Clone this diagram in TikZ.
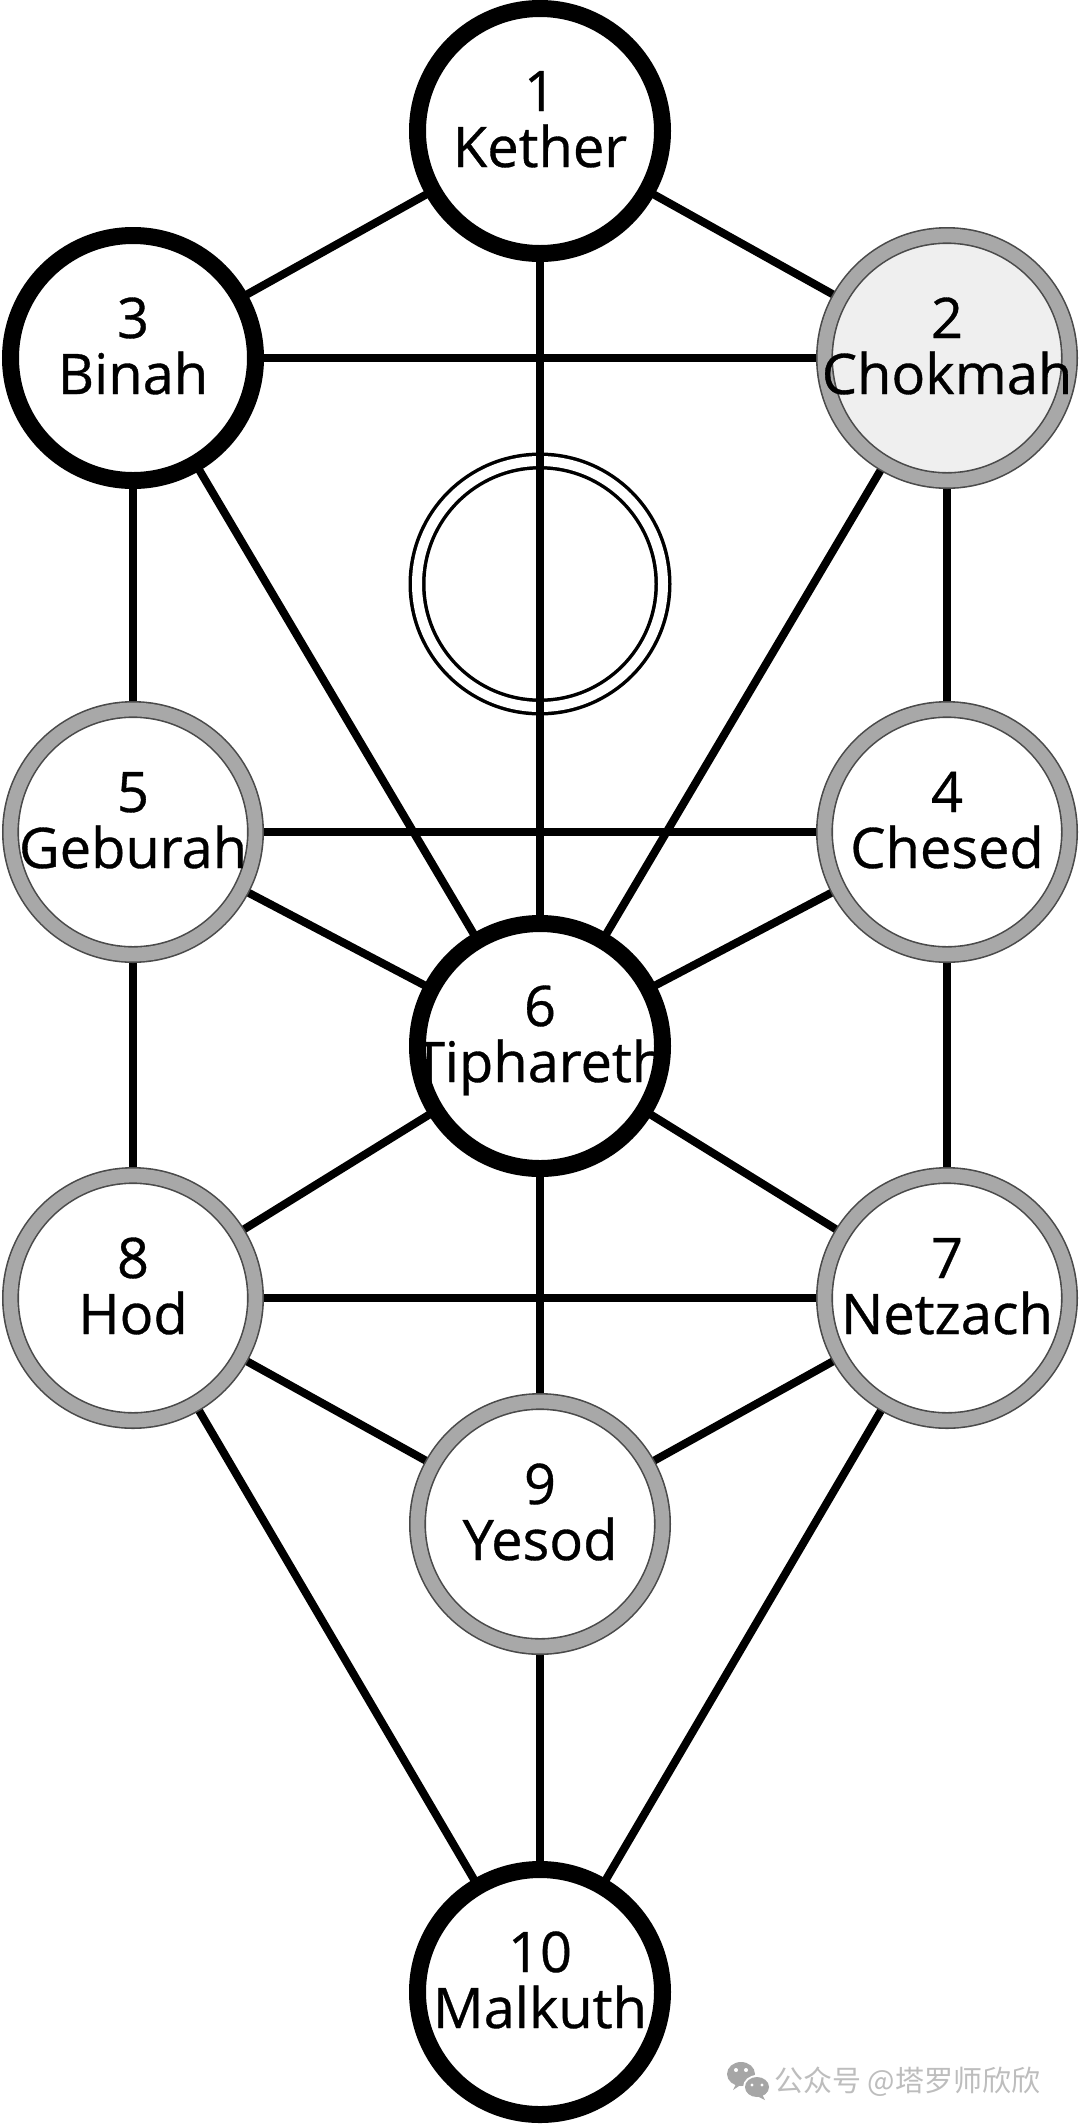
\documentclass[tikz,border=0pt]{standalone}
\usepackage{fontspec}
\setmainfont{Open Sans}
\newfontfamily\labelfont{Open Sans}[FakeBold=0.6]
\newfontfamily\cjk{Noto Sans CJK SC}
\usetikzlibrary{backgrounds}
\definecolor{ringgray}{HTML}{A8A8A8}
\definecolor{ringedge}{HTML}{4A4A4A}
\definecolor{chokfill}{HTML}{EFEFEF}
\definecolor{wmgray}{HTML}{BDBDBD}
\definecolor{wmicon}{HTML}{A6A6A6}
\begin{document}
\begin{tikzpicture}[x=1pt,y=-1pt,
  seph/.style={circle, minimum size=245pt, inner sep=0pt, fill=white},
  blackseph/.style={seph, draw=black, line width=17pt},
  grayseph/.style={seph, draw=ringedge, double=ringgray, line width=1.6pt, double distance=13.8pt},
  conn/.style={line width=8pt, draw=black},
  numtxt/.style={font=\labelfont\fontsize{56}{56}\selectfont, anchor=base, inner sep=0pt},
]
\useasboundingbox (0,0) rectangle (1080,2126);

% sephiroth
\node[blackseph] (k)  at (540,131)  {};
\node[blackseph] (bi) at (133,358)  {};
\node[grayseph, fill=chokfill] (ch) at (947,358) {};
\node[grayseph]  (ge) at (133,832)  {};
\node[grayseph]  (he) at (947,832)  {};
\node[blackseph] (ti) at (540,1046) {};
\node[grayseph]  (ho) at (133,1298) {};
\node[grayseph]  (ne) at (947,1298) {};
\node[grayseph]  (ye) at (540,1524) {};
\node[blackseph] (ma) at (540,1992) {};

\begin{pgfonlayer}{background}
  \fill[white] (0,0) rectangle (1080,2126);
  \node[circle, minimum size=246pt, inner sep=0pt, draw=black, line width=3.5pt,
        double=white, double distance=10pt] (da) at (540,584) {};
  \draw[conn] (k.center) -- (bi.center);
  \draw[conn] (k.center) -- (ch.center);
  \draw[conn] (k.center) -- (ti.center);
  \draw[conn] (bi.center) -- (ch.center);
  \draw[conn] (bi.center) -- (ge.center);
  \draw[conn] (bi.center) -- (ti.center);
  \draw[conn] (ch.center) -- (he.center);
  \draw[conn] (ch.center) -- (ti.center);
  \draw[conn] (ge.center) -- (he.center);
  \draw[conn] (ge.center) -- (ti.center);
  \draw[conn] (he.center) -- (ti.center);
  \draw[conn] (ge.center) -- (ho.center);
  \draw[conn] (he.center) -- (ne.center);
  \draw[conn] (ti.center) -- (ho.center);
  \draw[conn] (ti.center) -- (ne.center);
  \draw[conn] (ti.center) -- (ye.center);
  \draw[conn] (ho.center) -- (ne.center);
  \draw[conn] (ho.center) -- (ye.center);
  \draw[conn] (ne.center) -- (ye.center);
  \draw[conn] (ho.center) -- (ma.center);
  \draw[conn] (ne.center) -- (ma.center);
  \draw[conn] (ye.center) -- (ma.center);
\end{pgfonlayer}

% labels
\node[numtxt] (kn)  at ([yshift=20pt]k.center)  {1};
\node[numtxt] (kt)  at ([yshift=-36pt]k.center) {Kether};
\node[numtxt] (bin) at ([yshift=20pt]bi.center)  {3};
\node[numtxt] (bit) at ([yshift=-36pt]bi.center) {Binah};
\node[numtxt] (chn) at ([yshift=20pt]ch.center)  {2};
\node[numtxt] (cht) at ([yshift=-36pt]ch.center) {Chokmah};
\node[numtxt] (gen) at ([yshift=20pt]ge.center)  {5};
\node[numtxt] (get) at ([yshift=-36pt]ge.center) {Geburah};
\node[numtxt] (hen) at ([yshift=20pt]he.center)  {4};
\node[numtxt] (het) at ([yshift=-36pt]he.center) {Chesed};
\node[numtxt] (tin) at ([yshift=20pt]ti.center)  {6};
\node[numtxt] (tit) at ([yshift=-36pt]ti.center) {Tiphareth};
\node[numtxt] (hon) at ([yshift=20pt]ho.center)  {8};
\node[numtxt] (hot) at ([yshift=-36pt]ho.center) {Hod};
\node[numtxt] (nen) at ([yshift=20pt]ne.center)  {7};
\node[numtxt] (net) at ([yshift=-36pt]ne.center) {Netzach};
\node[numtxt] (yen) at ([yshift=20pt]ye.center)  {9};
\node[numtxt] (yet) at ([yshift=-36pt]ye.center) {Yesod};
\node[numtxt] (man) at ([yshift=20pt]ma.center)  {10};
\node[numtxt] (mat) at ([yshift=-36pt]ma.center) {Malkuth};

% watermark
\fill[wmicon] (741,2074) ellipse [x radius=14pt, y radius=12pt];
\fill[wmicon] (737,2082) -- (733,2090) -- (742,2084) -- cycle;
\fill[white] (757,2087) ellipse [x radius=14pt, y radius=12pt];
\fill[wmicon] (757,2087) ellipse [x radius=12pt, y radius=10pt];
\fill[wmicon] (762,2094) -- (765,2100) -- (757,2096) -- cycle;
\fill[white] (736,2070) circle (2pt) (746,2070) circle (2pt);
\fill[white] (752,2085) circle (1.6pt) (762,2085) circle (1.6pt);
\node[font=\cjk\fontsize{29}{29}\selectfont, text=wmgray, anchor=west, inner sep=0pt] (wm) at (774,2082) {公众号 @塔罗师欣欣};
\end{tikzpicture}
\end{document}
